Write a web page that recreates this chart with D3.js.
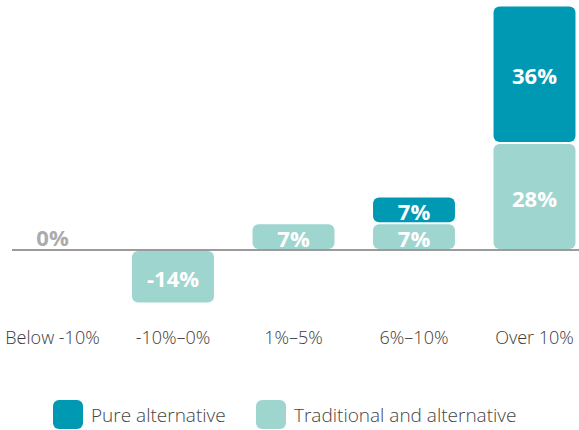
<!DOCTYPE html>
<html>
<head>
<meta charset="utf-8">
<script src="https://cdn.jsdelivr.net/npm/d3@7"></script>
<style>
  html, body { margin: 0; padding: 0; background: #fff; }
  svg { display: block; font-family: "Open Sans", sans-serif; }
</style>
</head>
<body>
<svg id="chart" width="579" height="430"></svg>
<script>
// Return ranges and the share of each portfolio type in them
const categories = ["Below -10%", "-10%\u20130%", "1%\u20135%", "6%\u201310%", "Over 10%"];
const traditional = [0, -14, 7, 7, 28];
const pure = [0, 0, 0, 7, 36];
const seriesNames = ["Pure alternative", "Traditional and alternative"];
const seriesColors = ["#0099b3", "#9fd5cf"];

const svg = d3.select("#chart");

const x = d3.scaleBand()
  .domain(categories)
  .range([-7.75, 594.75])
  .paddingInner(0.32)
  .paddingOuter(0.16);

const y = d3.scaleLinear().domain([-14, 64]).range([303.5, 5.5]);

// Stack the two series: traditional from zero, pure on top of it
const segments = [];
categories.forEach((c, i) => {
  const t = traditional[i], p = pure[i];
  if (t !== 0) segments.push({ cat: c, v0: 0, v1: t, value: t, color: seriesColors[1] });
  if (p !== 0) segments.push({ cat: c, v0: t, v1: t + p, value: p, color: seriesColors[0] });
});

const inset = 1;
const g = svg.append("g");
g.selectAll("rect.seg")
  .data(segments)
  .join("rect")
  .attr("class", "seg")
  .attr("x", d => x(d.cat))
  .attr("width", x.bandwidth())
  .attr("y", d => Math.min(y(d.v0), y(d.v1)) + inset)
  .attr("height", d => Math.abs(y(d.v0) - y(d.v1)) - 2 * inset)
  .attr("rx", 6)
  .attr("fill", d => d.color);

g.selectAll("text.val")
  .data(segments)
  .join("text")
  .attr("class", "val")
  .attr("x", d => x(d.cat) + x.bandwidth() / 2)
  .attr("y", d => (y(d.v0) + y(d.v1)) / 2 + 1)
  .attr("text-anchor", "middle")
  .attr("dominant-baseline", "central")
  .attr("font-size", 22)
  .attr("font-weight", 700)
  .attr("fill", "#fff")
  .text(d => d.value + "%");

// Categories with nothing in them get a grey zero label above the baseline
const empty = categories.filter((c, i) => traditional[i] === 0 && pure[i] === 0);
g.selectAll("text.zero")
  .data(empty)
  .join("text")
  .attr("class", "zero")
  .attr("x", d => x(d) + x.bandwidth() / 2)
  .attr("y", y(0) - 13)
  .attr("text-anchor", "middle")
  .attr("dominant-baseline", "central")
  .attr("font-size", 22)
  .attr("font-weight", 700)
  .attr("fill", "#ababab")
  .text("0%");

// Zero baseline
svg.append("line")
  .attr("x1", 12).attr("x2", 579)
  .attr("y1", y(0)).attr("y2", y(0))
  .attr("stroke", "#7a7a7a")
  .attr("stroke-width", 1.5);

// Category axis
const xAxis = d3.axisBottom(x).tickSize(0).tickPadding(0);
const ax = svg.append("g").attr("transform", "translate(0,331)").call(xAxis);
ax.select(".domain").remove();
ax.selectAll("text")
  .attr("font-family", "'Open Sans', sans-serif")
  .attr("font-size", 18)
  .attr("font-weight", 300)
  .attr("fill", "#3a3a3a");

// Legend
const legendX = [53, 256];
const lg = svg.append("g").selectAll("g")
  .data(seriesNames)
  .join("g")
  .attr("transform", (d, i) => `translate(${legendX[i]},400)`);
lg.append("rect")
  .attr("width", 30).attr("height", 29).attr("rx", 6)
  .attr("fill", (d, i) => seriesColors[i]);
lg.append("text")
  .attr("x", 38).attr("y", 15)
  .attr("dominant-baseline", "central")
  .attr("font-size", 19)
  .attr("font-weight", 300)
  .attr("fill", "#444")
  .text(d => d);
</script>
</body>
</html>
